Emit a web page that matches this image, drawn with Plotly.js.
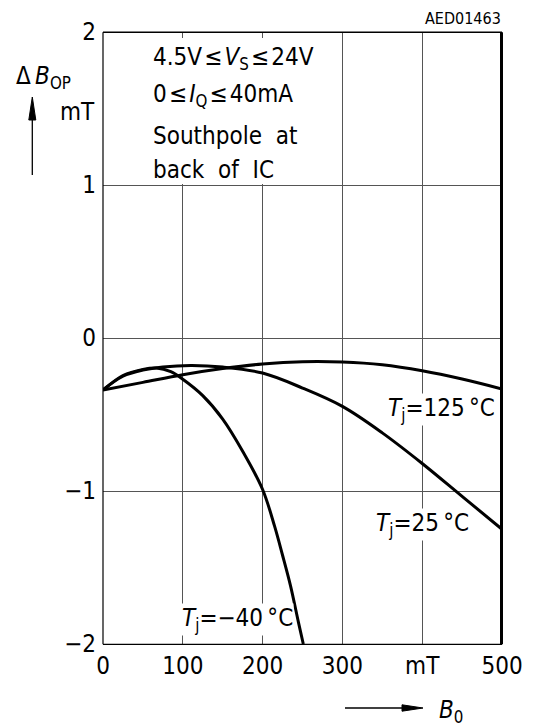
<!DOCTYPE html>
<html>
<head>
<meta charset="utf-8">
<script src="https://cdn.plot.ly/plotly-3.0.1.min.js"></script>
<style>
  html, body { margin: 0; padding: 0; background: #fff; }
  #chart { width: 533px; height: 726px; }
</style>
</head>
<body>
<div id="chart"></div>
<script>
// Operate-point shift ΔB_OP versus applied field B_0 for three junction temperatures
const B0_m40 = [0, 25, 50, 67, 85, 100, 125, 150, 175, 200, 215, 225, 235, 245, 251];
const dB_m40 = [-0.34, -0.245, -0.205, -0.196, -0.22, -0.27, -0.377, -0.53, -0.74, -0.99, -1.23, -1.42, -1.62, -1.86, -2.0];

const B0_25 = [0, 25, 50, 75, 110, 150, 200, 250, 300, 350, 400, 450, 500];
const dB_25 = [-0.34, -0.25, -0.21, -0.19, -0.18, -0.19, -0.229, -0.327, -0.447, -0.62, -0.82, -1.035, -1.25];

const B0_125 = [0, 50, 100, 150, 200, 250, 300, 350, 400, 450, 500];
const dB_125 = [-0.34, -0.29, -0.24, -0.2, -0.17, -0.155, -0.157, -0.175, -0.214, -0.268, -0.333];

const xTickVals = [0, 100, 200, 300, 400, 500];
const xTickText = ['0', '100', '200', '300', 'mT', '500'];
const yTickVals = [-2, -1, 0, 1, 2];
const yTickText = ['\u22122', '\u22121', '0', '1', '2'];

const FONT = '"Liberation Sans Narrow", "DejaVu Sans Condensed", "Liberation Sans", sans-serif';

// plot-area geometry in pixels, used for the decorations outside the axes
const M = { l: 103, r: 31, t: 32, b: 82 };
const W = 533, H = 726;
const PW = W - M.l - M.r, PH = H - M.t - M.b;
const px = v => (v - M.l) / PW;          // page x -> paper x
const py = v => (H - M.b - v) / PH;      // page y -> paper y

function curve(x, y) {
  return {
    x: x, y: y, type: 'scatter', mode: 'lines',
    line: { color: '#000', width: 3, shape: 'spline', smoothing: 1 },
    hoverinfo: 'skip'
  };
}

const traces = [curve(B0_125, dB_125), curve(B0_25, dB_25), curve(B0_m40, dB_m40)];

function txt(x, y, text, opts) {
  return Object.assign({
    x: x, y: y, xref: 'x', yref: 'y', text: text, showarrow: false,
    font: { family: FONT, size: 24, color: '#000' }
  }, opts || {});
}
const P = { xref: 'paper', yref: 'paper', yanchor: 'middle' };
const hs = '\u200a';   // hair space around the relation signs

const annotations = [
  // condition block
  txt(px(151), py(59), '4.5V' + hs + '\u2264' + hs + '<i>V</i><sub>S</sub>' + hs + '\u2264' + hs + '24V', Object.assign({ xanchor: 'left' }, P)),
  txt(px(151), py(96), '0' + hs + '\u2264' + hs + '<i>I</i><sub>Q</sub>' + hs + '\u2264' + hs + '40mA', Object.assign({ xanchor: 'left' }, P)),
  txt(px(151), py(136), 'Southpole\u00a0\u00a0at', Object.assign({ xanchor: 'left' }, P)),
  txt(px(151), py(170), 'back\u00a0\u00a0of\u00a0\u00a0IC', Object.assign({ xanchor: 'left' }, P)),
  // curve labels
  txt(424, -0.47, '<i>T</i><sub>j</sub>=125\u2009\u00b0C', { bgcolor: '#fff', borderpad: 0 }),
  txt(400, -1.22, '<i>T</i><sub>j</sub>=25\u2009\u00b0C', { bgcolor: '#fff', borderpad: 0 }),
  txt(169, -1.84, '<i>T</i><sub>j</sub>=\u221240\u2009\u00b0C', { bgcolor: '#fff', borderpad: 0 }),
  // axis names
  txt(px(14), py(78), '\u0394\u2009<i>B</i><sub>OP</sub>', Object.assign({ xanchor: 'left' }, P)),
  txt(px(77), py(112), 'mT', Object.assign({ xanchor: 'center' }, P)),
  txt(px(437), py(711), '<i>B</i><sub>0</sub>', Object.assign({ xanchor: 'left' }, P)),
  txt(px(503), py(18), 'AED01463', Object.assign({ xanchor: 'right', font: { family: FONT, size: 16, color: '#000' } }, P))
];

function pline(x0, y0, x1, y1, w) {
  return { type: 'line', xref: 'paper', yref: 'paper', x0: px(x0), y0: py(y0), x1: px(x1), y1: py(y1),
           line: { color: '#000', width: w }, layer: 'above' };
}
function ppath(points) {
  const d = points.map((p, i) => (i ? 'L' : 'M') + px(p[0]) + ',' + py(p[1])).join(' ') + ' Z';
  return { type: 'path', xref: 'paper', yref: 'paper', path: d, fillcolor: '#000', line: { color: '#000', width: 1 }, layer: 'above' };
}

const shapes = [
  // blank panel behind the condition text
  { type: 'rect', xref: 'x', yref: 'y', x0: 1, x1: 296, y0: 1.006, y1: 1.96,
    fillcolor: '#fff', line: { width: 0 }, layer: 'between' },
  // frame
  pline(103, 644.3, 502, 644.3, 1.2),
  pline(103, 32.3, 502, 32.3, 1.6),
  pline(103, 32.3, 103, 644.3, 1.2),
  pline(501.5, 32.3, 501.5, 644.3, 3),
  // up arrow beside the y name
  pline(32.3, 175, 32.3, 115, 1.3),
  ppath([[32.3, 97], [28.8, 120], [35.8, 120]]),
  // right arrow beside the x name
  pline(345, 708, 405, 708, 1.3),
  ppath([[423, 708], [402, 704.8], [402, 711.2]])
];

const layout = {
  width: W, height: H,
  margin: M,
  paper_bgcolor: '#fff', plot_bgcolor: '#fff',
  showlegend: false,
  font: { family: FONT, size: 24, color: '#000' },
  xaxis: {
    range: [0, 500], tickvals: xTickVals, ticktext: xTickText,
    showgrid: true, gridcolor: '#555', gridwidth: 1, zeroline: false,
    showline: false, ticks: '', ticklabelstandoff: 5,
    tickfont: { family: FONT, size: 24, color: '#000' },
    fixedrange: true
  },
  yaxis: {
    range: [-2, 2], tickvals: yTickVals, ticktext: yTickText,
    showgrid: true, gridcolor: '#555', gridwidth: 1, zeroline: false,
    showline: false, ticks: '', ticklabelstandoff: 6,
    tickfont: { family: FONT, size: 24, color: '#000' },
    fixedrange: true
  },
  annotations: annotations,
  shapes: shapes
};

Plotly.newPlot('chart', traces, layout, { displayModeBar: false, staticPlot: true });
</script>
</body>
</html>
